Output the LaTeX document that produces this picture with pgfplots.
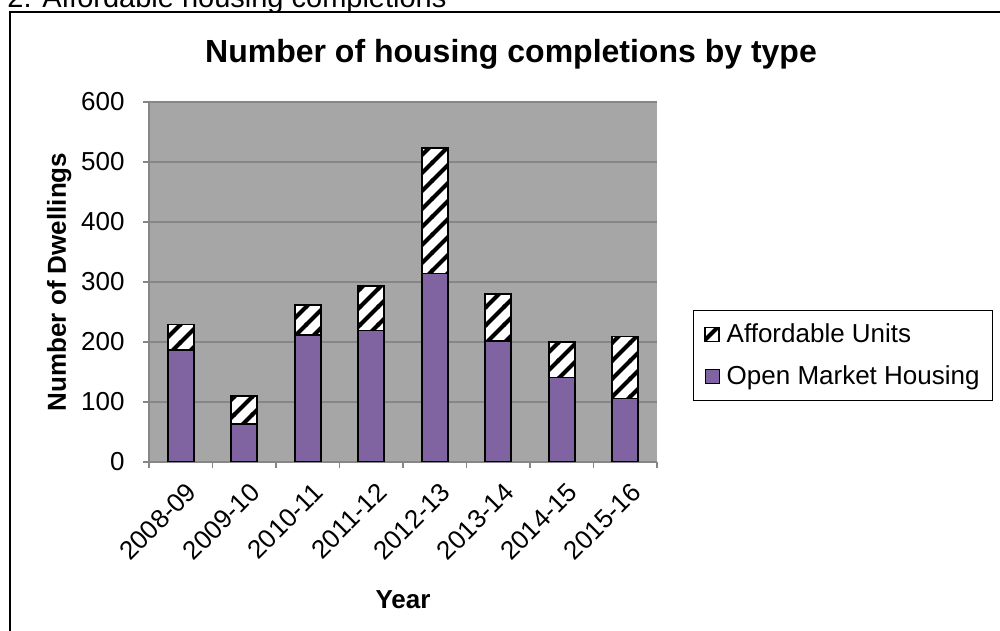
\documentclass[border=0pt]{standalone}
\usepackage{pgfplots}
\pgfplotsset{compat=1.18}
\usepackage{fontspec}
\setmainfont{Liberation Sans}
\usetikzlibrary{patterns}
\definecolor{purp}{HTML}{8064A2}
\definecolor{plotbg}{HTML}{A6A6A6}
\definecolor{gridc}{HTML}{868686}
\pgfdeclarepatternformonly{bigstripes}{\pgfqpoint{-1bp}{-1bp}}{\pgfqpoint{10bp}{10bp}}{\pgfqpoint{9bp}{9bp}}{%
  \pgfsetlinewidth{2bp}%
  \pgfpathmoveto{\pgfqpoint{-1bp}{-1bp}}%
  \pgfpathlineto{\pgfqpoint{10bp}{10bp}}%
  \pgfusepath{stroke}%
}
\begin{document}
\begin{tikzpicture}
\useasboundingbox (0,0) rectangle (500bp,315.5bp);
\draw[line width=1bp] (5bp,-20bp) rectangle (520bp,309.5bp);
\node[anchor=base west, font=\fontsize{14.5bp}{17bp}\selectfont, inner sep=0pt] at (3.5bp,311.75bp) {2. Affordable housing completions};
\node[anchor=base, font=\fontsize{16bp}{19bp}\selectfont\bfseries, inner sep=0pt] at (255.5bp,284bp) {Number of housing completions by type};
\begin{axis}[
  at={(74.5bp,84.5bp)}, anchor=south west,
  width=254bp, height=180bp, scale only axis,
  xmin=-0.5, xmax=7.5, ymin=0, ymax=600,
  ybar stacked, bar width=13bp,
  axis background/.style={fill=plotbg},
  axis x line*=bottom, axis y line*=left,
  axis line style={draw=gridc, line width=0.75bp},
  ytick={0,100,...,600},
  ymajorgrids, major grid style={draw=gridc, line width=0.75bp},
  xtick={0,...,7},
  xticklabels={2008-09,2009-10,2010-11,2011-12,2012-13,2013-14,2014-15,2015-16},
  minor xtick={-0.5,0.5,...,7.5},
  major x tick style={draw=none},
  tick align=outside, major tick length=3bp, minor tick length=3bp,
  tick style={draw=gridc, line width=0.75bp},
  ticklabel style={font=\fontsize{13bp}{15bp}\selectfont},
  /pgf/number format/assume math mode=true,
  yticklabel style={anchor=east, inner sep=0pt, xshift=-9bp},
  xticklabel style={rotate=45, anchor=north east, inner sep=0pt, xshift=-3bp, yshift=-6bp},
  ylabel={Number of Dwellings},
  every axis y label/.style={at={(axis description cs:-0.177,0.5)}, rotate=90, anchor=center, font=\fontsize{13bp}{15bp}\selectfont\bfseries},
  xlabel={Year},
  every axis x label/.style={at={(axis description cs:0.5,-0.383)}, anchor=center, font=\fontsize{13bp}{15bp}\selectfont\bfseries},
  legend style={
    at={(1.0709,0.4222)}, anchor=north west,
    draw=black, line width=0.7bp, fill=white,
    font=\fontsize{13bp}{15bp}\selectfont,
    inner xsep=5.5bp, inner ysep=5.5bp,
    row sep=8bp,
    nodes={inner sep=1bp},
    /tikz/every odd column/.append style={column sep=2.5bp},
  },
  legend cell align=left,
  reverse legend,
  legend image code/.code={\draw[#1, line width=0.5bp] (0bp,-3.5bp) rectangle (7bp,3.5bp);},
]
\addplot[fill=purp, draw=black, line width=0.8bp] coordinates {(0,187) (1,63) (2,212) (3,219) (4,314) (5,202) (6,141) (7,106)};
\addlegendentry{Open Market Housing}
\addplot[preaction={fill=white}, pattern=bigstripes, pattern color=black, draw=black, line width=0.8bp] coordinates {(0,42) (1,47) (2,50) (3,74) (4,209) (5,78) (6,59) (7,103)};
\addlegendentry{Affordable Units}
\end{axis}
\end{tikzpicture}
\end{document}
